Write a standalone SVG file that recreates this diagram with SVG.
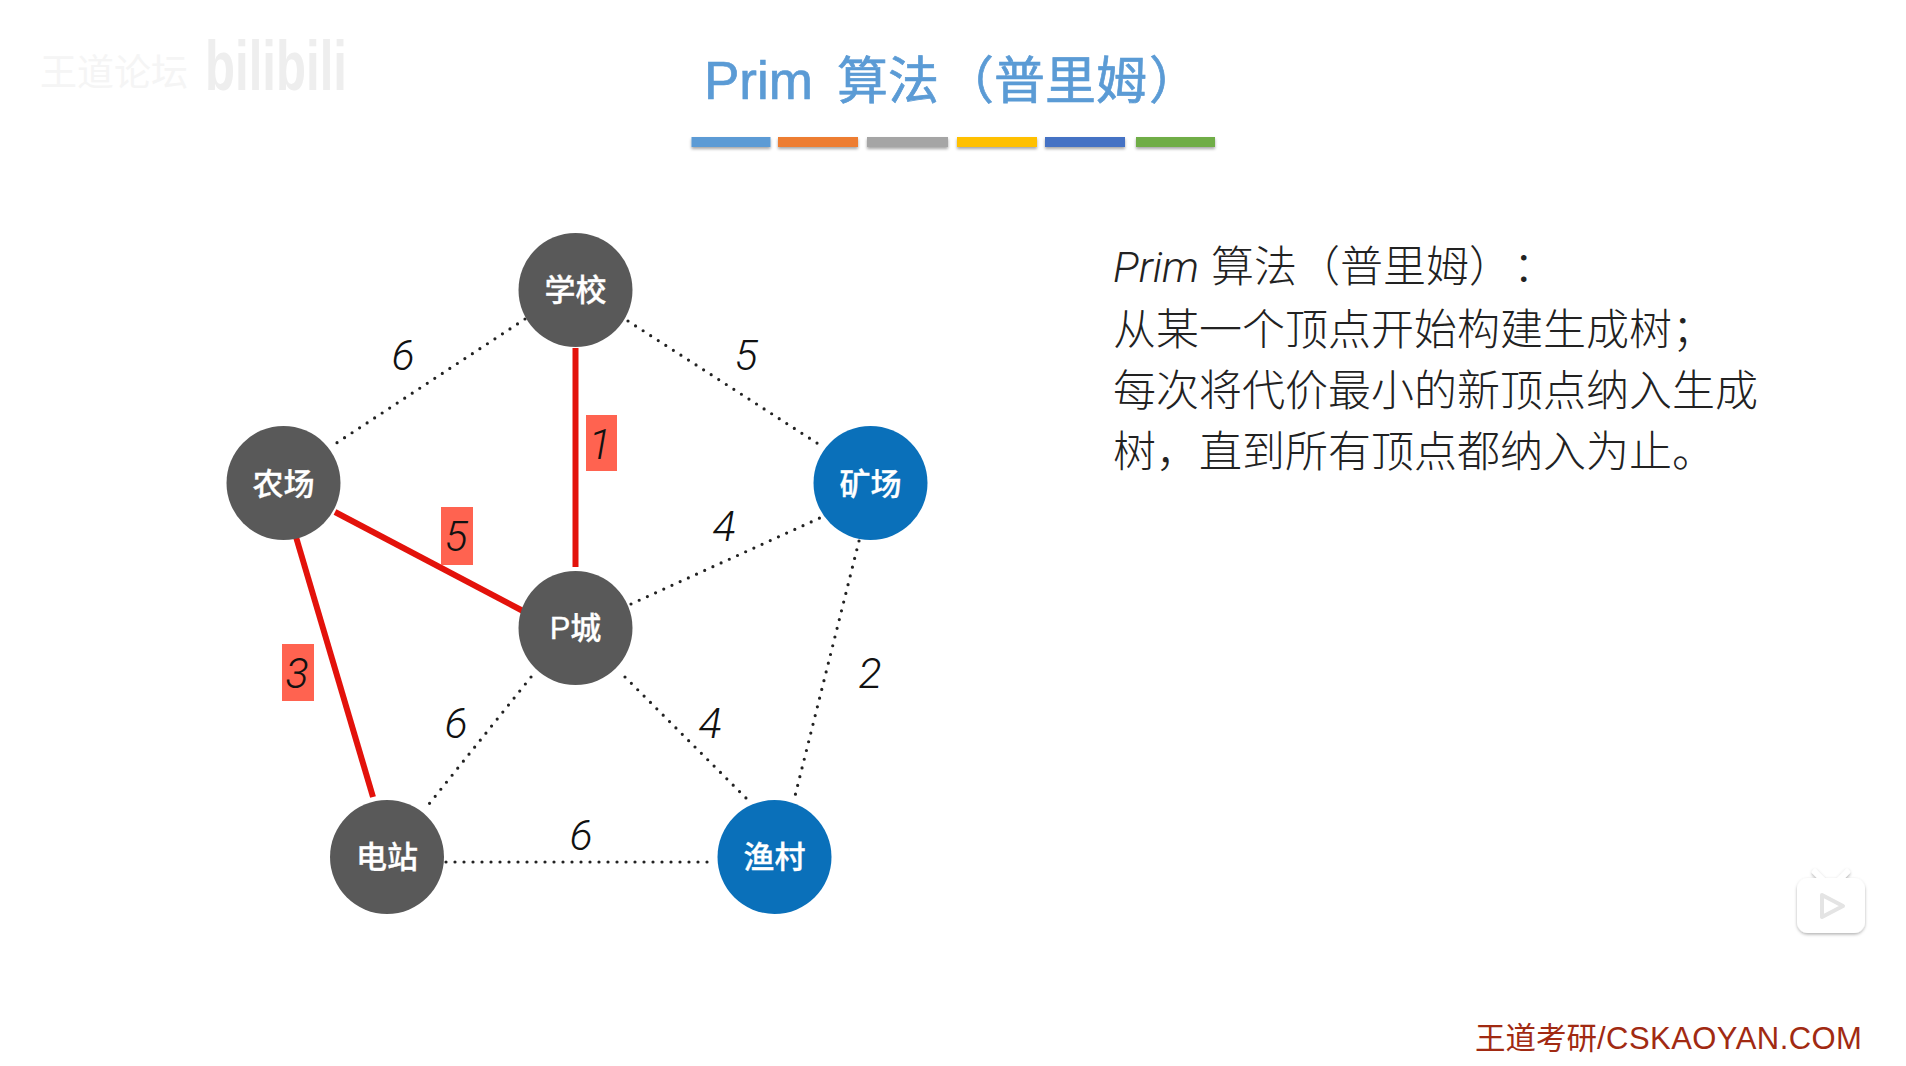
<svg xmlns="http://www.w3.org/2000/svg" width="1906" height="1066" viewBox="0 0 1906 1066">
<defs>
<filter id="sh" x="-10%" y="-60%" width="120%" height="240%"><feDropShadow dx="0" dy="2" stdDeviation="1.5" flood-color="#000" flood-opacity="0.35"/></filter>
<filter id="tv" x="-20%" y="-20%" width="140%" height="140%"><feDropShadow dx="0" dy="1.500" stdDeviation="1.800" flood-color="#000" flood-opacity="0.3"/></filter>
</defs>
<style>
text{font-family:"Liberation Sans","Noto Sans CJK SC",sans-serif}
.title{font-size:51px;fill:#5b9bd5;stroke:#5b9bd5;stroke-width:0.7}
.body{font-size:43px;fill:#222;font-weight:300;font-family:"Noto Sans CJK SC",sans-serif}
.node{font-size:31px;fill:#fff;stroke:#fff;stroke-width:0.3;text-anchor:middle;font-family:"Liberation Sans","Noto Sans CJK SC",sans-serif;font-weight:500}
.w{font-family:Roboto,"Liberation Sans",sans-serif;font-size:43px;font-style:italic;font-weight:300;fill:#111;text-anchor:middle}
.dot{fill:none;stroke:#222;stroke-width:3.2;stroke-linecap:round;stroke-dasharray:0 9}
.red{fill:none;stroke:#e3120b;stroke-width:6}
.tag{fill:#ff6350}
.g{fill:#595959}.b{fill:#0a70ba}
</style>
<rect width="1906" height="1066" fill="#fff"/>
<g id="watermark">
<text x="40" y="86" font-size="37" fill="#f5f5f5">王道论坛</text>
<text x="205" y="90" font-size="70" font-weight="700" fill="#eeeeee" textLength="142" lengthAdjust="spacingAndGlyphs">bilibili</text>
</g>
<g id="title">
<text class="title" y="99"><tspan x="704" font-size="53">Prim</tspan><tspan x="837">算法</tspan><tspan x="943">（普里姆</tspan><tspan x="1149">）</tspan></text>
<g filter="url(#sh)">
<rect x="691.500" y="137" width="79" height="10" fill="#5b9bd5"/>
<rect x="778" y="137" width="80" height="10" fill="#ed7d31"/>
<rect x="867" y="137" width="81" height="10" fill="#a5a5a5"/>
<rect x="957" y="137" width="80" height="10" fill="#ffc000"/>
<rect x="1045" y="137" width="80" height="10" fill="#4472c4"/>
<rect x="1136" y="137" width="79" height="10" fill="#70ad47"/>
</g>
</g>
<g id="connectors">
<path class="dot" d="M525 319L335 444"/>
<path class="dot" d="M628 321L820 445"/>
<path class="dot" d="M631 604L822 517"/>
<path class="dot" d="M859 541L794 800"/>
<path class="dot" d="M625 677L747 799"/>
<path class="dot" d="M531 677L429 804"/>
<path class="dot" d="M446 862L708 862"/>
<path class="red" d="M575.500 348V567"/>
<path class="red" d="M335 512L523 611"/>
<path class="red" d="M296 537L373 797"/>
</g>
<g id="edge-labels">
<rect class="tag" x="586" y="415" width="31" height="56"/>
<rect class="tag" x="441" y="507" width="32" height="58"/>
<rect class="tag" x="282" y="644" width="32" height="57"/>
<text class="w" x="403" y="370">6</text>
<text class="w" x="746" y="370">5</text>
<text class="w" x="600" y="459">1</text>
<text class="w" x="456" y="551">5</text>
<text class="w" x="724" y="541">4</text>
<text class="w" x="297" y="688">3</text>
<text class="w" x="870" y="688">2</text>
<text class="w" x="456" y="738">6</text>
<text class="w" x="710" y="738">4</text>
<text class="w" x="581" y="850">6</text>
</g>
<g id="node-school"><circle class="g" cx="575.500" cy="290" r="57"/><text class="node" x="575.500" y="301">学校</text></g>
<g id="node-farm"><circle class="g" cx="283.500" cy="483" r="57"/><text class="node" x="283.500" y="495">农场</text></g>
<g id="node-mine"><circle class="b" cx="870.500" cy="483" r="57"/><text class="node" x="870.500" y="495">矿场</text></g>
<g id="node-p"><circle class="g" cx="575.500" cy="628" r="57"/><text class="node" x="575.500" y="639">P城</text></g>
<g id="node-power"><circle class="g" cx="387" cy="857" r="57"/><text class="node" x="387" y="868">电站</text></g>
<g id="node-fish"><circle class="b" cx="774.500" cy="857" r="57"/><text class="node" x="774.500" y="868">渔村</text></g>
<g id="description">
<text class="body" y="282"><tspan x="1113" font-style="italic" font-family="Roboto,'Liberation Sans',sans-serif">Prim</tspan><tspan x="1211">算法</tspan><tspan x="1297">（普里姆）</tspan><tspan x="1513">：</tspan></text>
<text class="body" x="1113" y="345">从某一个顶点开始构建生成树；</text>
<text class="body" x="1113" y="406">每次将代价最小的新顶点纳入生成</text>
<text class="body" x="1113" y="467">树，直到所有顶点都纳入为止。</text>
</g>
<g id="tv-logo" filter="url(#tv)">
<path d="M1815 872L1823 880M1847 872L1839 880" stroke="#fff" stroke-width="6" stroke-linecap="round" fill="none"/>
<rect x="1797" y="878" width="68" height="55" rx="11" fill="#fff"/>
<path d="M1822 895L1843 906L1822 917Z" fill="#fff" stroke="#e4e4e4" stroke-width="4" stroke-linejoin="round"/>
</g>
<text id="footer" y="1049" font-size="30" fill="#a12a12"><tspan x="1475" font-size="30.500">王道考研</tspan><tspan letter-spacing="0.45" font-size="31">/CSKAOYAN.COM</tspan></text>
</svg>
